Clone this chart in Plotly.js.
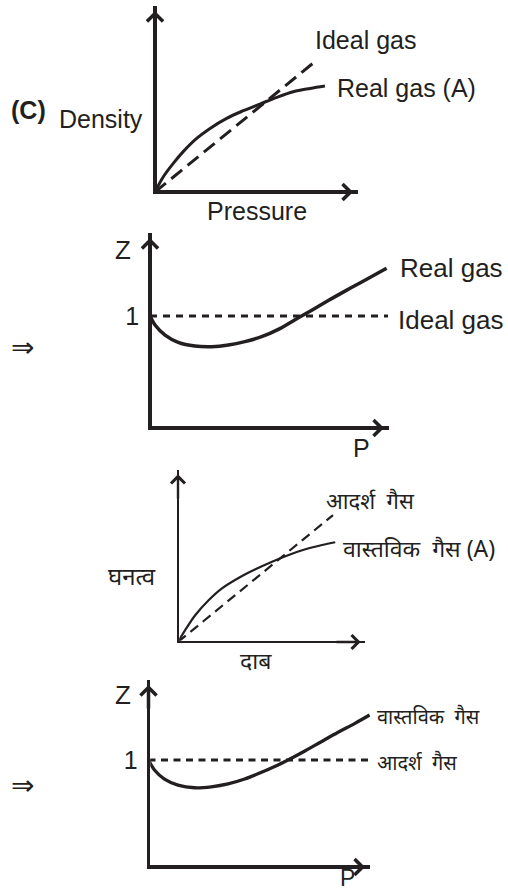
<!DOCTYPE html>
<html><head><meta charset="utf-8">
<script src="https://cdn.plot.ly/plotly-3.0.1.min.js"></script>
<style>html,body{margin:0;padding:0;background:#fff;}#chart{width:508px;height:894px;}</style>
</head><body><div id="chart"></div>
<script>
// ---------- DATA ----------
// Panel 1 (English): density vs pressure
const densPressure = [0, 0.41, 0.90, 1.39, 2.05, 2.71, 3.53, 4.35, 5.17, 6.00, 6.81, 7.64, 8.37];
const densReal     = [0, 0.82, 1.54, 2.17, 2.88, 3.42, 3.96, 4.37, 4.73, 5.09, 5.39, 5.57, 5.70];
const densIdealP   = [0, 7.98];
const densIdeal    = [0, 7.10];
// Panel 2 (English): Z vs P
const zP      = [0, 0.21, 0.63, 1.18, 1.88, 2.58, 3.28, 3.97, 4.67, 5.37, 6.07, 6.77, 7.46, 8.16, 8.86, 9.90];
const zReal   = [1, 0.920, 0.830, 0.765, 0.732, 0.726, 0.741, 0.771, 0.815, 0.881, 0.967, 1.052, 1.138, 1.222, 1.304, 1.426];
const zIdealP = [0, 9.96];
const zIdeal  = [1, 1];
// Panel 3 (Hindi): density vs pressure
const hDensPressure = [0, 0.39, 0.93, 1.65, 2.35, 3.26, 4.14, 5.03, 5.92, 6.81, 7.70, 8.41];
const hDensReal     = [0, 0.70, 1.57, 2.44, 3.12, 3.74, 4.23, 4.67, 5.06, 5.39, 5.64, 5.80];
const hDensIdealP   = [0, 8.29];
const hDensIdeal    = [0, 7.38];
// Panel 4 (Hindi): Z vs P
const hzP      = [0, 0.27, 0.72, 1.33, 2.08, 2.84, 3.59, 4.34, 5.10, 5.85, 6.30, 7.06, 7.80, 8.56, 9.32, 9.98];
const hzReal   = [1, 0.907, 0.822, 0.766, 0.741, 0.750, 0.776, 0.822, 0.885, 0.953, 1.0, 1.084, 1.171, 1.259, 1.343, 1.421];
const hzIdealP = [0, 9.98];
const hzIdeal  = [1, 1];
// Tick and text labels
const zTickVals = [1];
const zTickText = ['1'];
const enLabels = {panel:'(C)', density:'Density', pressure:'Pressure', ideal:'Ideal gas', realA:'Real gas (A)', real:'Real gas', z:'Z', p:'P', implies:'\u21D2'};
const hiLabels = {density:'घनत्व', pressure:'दाब', ideal:'आदर्श\u00A0\u00A0गैस', realA:'वास्तविक\u00A0\u00A0गैस (A)', real:'वास्तविक\u00A0\u00A0गैस'};

// ---------- LAYOUT ----------
const W = 508, H = 894;
const INK = '#231f20';
const EN = 'Liberation Sans, Arial, sans-serif';
const HI = 'Noto Sans, sans-serif';

// pixel frames of the four panels: origin, end of x arrow, top of y arrow
const panels = [
  {ox:155,   oy:192, xEnd:358, yTop:6,   xMax:10, yMax:10,    lw:3.5, head:3.1},
  {ox:150,   oy:428, xEnd:389, yTop:233, xMax:10, yMax:1.741, lw:3.5, head:3.1},
  {ox:178,   oy:642, xEnd:365, yTop:470, xMax:10, yMax:10,    lw:2.4, head:2.7},
  {ox:148.5, oy:867, xEnd:370, yTop:680, xMax:10, yMax:1.748, lw:3.5, head:3.1}
];

const layout = {
  width: W, height: H,
  margin: {l:0, r:0, t:0, b:0},
  paper_bgcolor: '#fff', plot_bgcolor: 'rgba(0,0,0,0)',
  showlegend: false,
  annotations: []
};

panels.forEach((p, k) => {
  const id = k === 0 ? '' : String(k + 1);
  const sx = (p.xEnd - p.ox) / p.xMax;
  const sy = (p.oy - p.yTop) / p.yMax;
  const isZ = (k === 1 || k === 3);
  layout['xaxis' + id] = {
    domain: [(p.ox + p.lw / 2) / W, p.xEnd / W],
    range: [p.lw / 2 / sx, p.xMax],
    anchor: 'y' + id,
    showline: true, linewidth: p.lw, linecolor: INK,
    showgrid: false, zeroline: false, showticklabels: false, ticks: '',
    fixedrange: true
  };
  layout['yaxis' + id] = {
    domain: [1 - (p.oy - p.lw / 2) / H, 1 - p.yTop / H],
    range: [p.lw / 2 / sy, p.yMax],
    anchor: 'x' + id,
    showline: true, linewidth: p.lw, linecolor: INK,
    showgrid: false, zeroline: false, ticks: '',
    showticklabels: isZ,
    tickmode: isZ ? 'array' : 'auto',
    tickvals: isZ ? zTickVals : undefined,
    ticktext: isZ ? zTickText : undefined,
    tickfont: {family: EN, size: 25, color: INK},
    ticklabelstandoff: 4,
    fixedrange: true
  };
  // arrowheads at the ends of both axes
  const common = {showarrow: true, arrowhead: 4, arrowwidth: p.lw, arrowsize: p.head / p.lw,
                  arrowcolor: INK, standoff: 1.6 * p.head, text: '', axref: 'pixel', ayref: 'pixel'};
  layout.annotations.push(Object.assign({}, common, {
    xref: 'x' + id + ' domain', yref: 'y' + id + ' domain', x: 1, y: 0, yshift: -p.lw / 2, ax: -30, ay: 0}));
  layout.annotations.push(Object.assign({}, common, {
    xref: 'x' + id + ' domain', yref: 'y' + id + ' domain', x: 0, y: 1, xshift: -p.lw / 2, ax: 0, ay: 30}));
});

function label(text, x, y, size, family, anchor, bold) {
  layout.annotations.push({
    xref: 'paper', yref: 'paper', x: x / W, y: 1 - y / H,
    xanchor: anchor || 'left', yanchor: 'middle', showarrow: false,
    text: bold ? '<b>' + text + '</b>' : text,
    font: {family: family, size: size, color: INK}
  });
}
// Panel 1 labels
label(enLabels.panel, 9, 110, 25, EN, 'left', true);
label(enLabels.density, 57, 119, 25, EN);
label(enLabels.pressure, 257, 211, 25, EN, 'center');
label(enLabels.ideal, 313, 40, 25, EN);
label(enLabels.realA, 335, 88, 25, EN);
// Panel 2 labels
label(enLabels.z, 123, 250, 26, EN, 'center');
label(enLabels.p, 361, 448, 25, EN, 'center');
label(enLabels.real, 398, 268, 26, EN);
label(enLabels.ideal, 396, 320, 26, EN);
label(enLabels.implies, 22, 347, 28, 'DejaVu Sans', 'center');
// Panel 3 labels
label(hiLabels.ideal, 324, 500, 22, HI);
label(hiLabels.realA, 341, 548, 23, HI);
label(hiLabels.density, 106, 575, 24, HI);
label(hiLabels.pressure, 256, 660, 23, HI, 'center');
// Panel 4 labels
label(enLabels.z, 123, 695, 26, EN, 'center');
label(enLabels.p, 347, 878, 23, EN, 'center');
label(hiLabels.real, 375, 716, 20, HI);
label(hiLabels.ideal, 375, 762, 20, HI);
label(enLabels.implies, 22, 785, 28, 'DejaVu Sans', 'center');

// ---------- TRACES ----------
function solid(x, y, id, w) {
  return {x: x, y: y, xaxis: 'x' + id, yaxis: 'y' + id, type: 'scatter', mode: 'lines',
          line: {color: INK, width: w, shape: 'spline', smoothing: 1}, hoverinfo: 'skip'};
}
function dashed(x, y, id, w, dash) {
  return {x: x, y: y, xaxis: 'x' + id, yaxis: 'y' + id, type: 'scatter', mode: 'lines',
          line: {color: INK, width: w, dash: dash}, hoverinfo: 'skip'};
}
const data = [
  dashed(densIdealP, densIdeal, '', 3, '14px,7px'),
  solid(densPressure, densReal, '', 3),
  dashed(zIdealP, zIdeal, '2', 3, '7px,6px'),
  solid(zP, zReal, '2', 3.5),
  dashed(hDensIdealP, hDensIdeal, '3', 2.2, '10px,6px'),
  solid(hDensPressure, hDensReal, '3', 2.2),
  dashed(hzIdealP, hzIdeal, '4', 3, '7px,5.5px'),
  solid(hzP, hzReal, '4', 3.3)
];

Plotly.newPlot('chart', data, layout, {displayModeBar: false, staticPlot: true});
</script>
</body></html>
